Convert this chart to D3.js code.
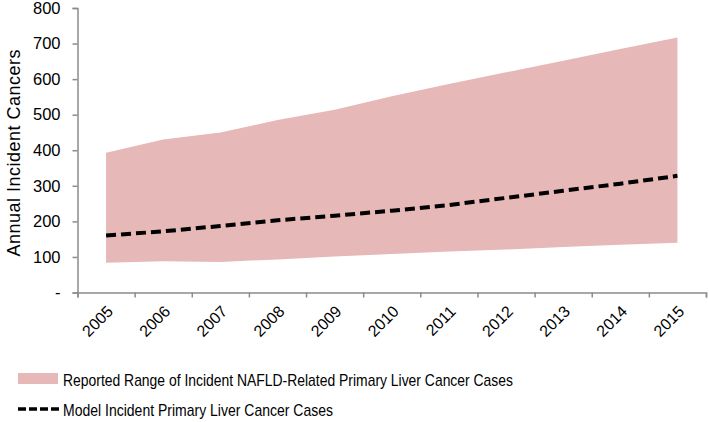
<!DOCTYPE html>
<html>
<head>
<meta charset="utf-8">
<script src="https://cdn.jsdelivr.net/npm/d3@7"></script>
<style>
  html, body { margin: 0; padding: 0; background: #fff; }
  svg { display: block; font-family: "Liberation Sans", Arial, sans-serif; }
</style>
</head>
<body>
<svg id="chart" width="709" height="422"></svg>
<script>
const years = ["2005","2006","2007","2008","2009","2010","2011","2012","2013","2014","2015"];
const rangeLow  = [84, 88, 86, 93, 101, 108, 115, 121, 128, 134, 140];
const rangeHigh = [393, 430, 450, 485, 514, 552, 586, 619, 652, 685, 717];
const modelCases = [160, 172, 187, 203, 216, 230, 246, 266, 286, 306, 328];
const yTicks = [0, 100, 200, 300, 400, 500, 600, 700, 800];
const legendLabels = [
  "Reported Range of Incident NAFLD-Related Primary Liver Cancer Cases",
  "Model Incident Primary Liver Cancer Cases"
];
const yTitle = "Annual Incident Cancers";

const svg = d3.select("#chart");
const plotL = 77.5, plotR = 706, plotT = 8, plotB = 292.5;

const x = d3.scaleBand().domain(years).range([plotL, plotR]).padding(0);
const xEdge = d3.scaleLinear().domain([0, years.length]).range([plotL, plotR]);
const y = d3.scaleLinear().domain([0, 800]).range([plotB, plotT]);
const cx = d => x(d) + x.bandwidth() / 2;

const data = years.map((yr, i) => ({ yr, lo: rangeLow[i], hi: rangeHigh[i], m: modelCases[i] }));

// range area
svg.append("path")
  .datum(data)
  .attr("fill", "#e6b8b7")
  .attr("d", d3.area().x(d => cx(d.yr)).y0(d => y(d.lo)).y1(d => y(d.hi)));

// model line
svg.append("path")
  .datum(data)
  .attr("fill", "none")
  .attr("stroke", "#000")
  .attr("stroke-width", 4)
  .attr("stroke-dasharray", "10,5")
  .attr("d", d3.line().x(d => cx(d.yr)).y(d => y(d.m)));

const axisColor = "#8c8c8c";

// y axis
const yAxis = svg.append("g")
  .attr("transform", `translate(${plotL},0)`)
  .call(d3.axisLeft(y).tickValues(yTicks).tickSize(5).tickPadding(12)
    .tickFormat(d => d === 0 ? "-" : d));
yAxis.select(".domain").attr("stroke", axisColor).attr("stroke-width", 1.5);
yAxis.selectAll(".tick line").attr("stroke", axisColor).attr("stroke-width", 1.5);
yAxis.selectAll(".tick text").attr("fill", "#000").attr("font-size", 16.5)
  .attr("font-family", "Liberation Sans, Arial, sans-serif");

// x axis ticks at band edges
const xAxisTicks = svg.append("g")
  .attr("transform", `translate(0,${plotB})`)
  .call(d3.axisBottom(xEdge).tickValues(d3.range(years.length + 1)).tickSize(5).tickFormat(""));
xAxisTicks.select(".domain").attr("stroke", axisColor).attr("stroke-width", 1.5);
xAxisTicks.selectAll(".tick line").attr("stroke", axisColor).attr("stroke-width", 1.5);

// x labels
const xLabels = svg.append("g")
  .attr("transform", `translate(0,${plotB})`)
  .call(d3.axisBottom(x).tickSize(0).tickPadding(0));
xLabels.select(".domain").remove();
xLabels.selectAll(".tick text")
  .attr("fill", "#000")
  .attr("font-size", 16)
  .attr("font-family", "Liberation Sans, Arial, sans-serif")
  .attr("text-anchor", "end")
  .attr("x", 0).attr("y", 0).attr("dy", "0.35em")
  .attr("transform", "translate(4,16) rotate(-45)");

// y title
svg.append("text")
  .attr("transform", `translate(20,153) rotate(-90)`)
  .attr("text-anchor", "middle")
  .attr("font-size", 18)
  .attr("textLength", 207)
  .attr("lengthAdjust", "spacing")
  .attr("fill", "#000")
  .text(yTitle);

// legend
const lg = svg.append("g");
lg.append("rect").attr("x", 18).attr("y", 373).attr("width", 40).attr("height", 11).attr("fill", "#e6b8b7");
lg.append("text").attr("x", 63).attr("y", 386).attr("font-size", 17)
  .attr("textLength", 450).attr("lengthAdjust", "spacingAndGlyphs")
  .attr("fill", "#000").text(legendLabels[0]);
lg.append("line").attr("x1", 18).attr("x2", 59).attr("y1", 409).attr("y2", 409)
  .attr("stroke", "#000").attr("stroke-width", 3.5).attr("stroke-dasharray", "8,3");
lg.append("text").attr("x", 63).attr("y", 415.5).attr("font-size", 17)
  .attr("textLength", 270).attr("lengthAdjust", "spacingAndGlyphs")
  .attr("fill", "#000").text(legendLabels[1]);
</script>
</body>
</html>
